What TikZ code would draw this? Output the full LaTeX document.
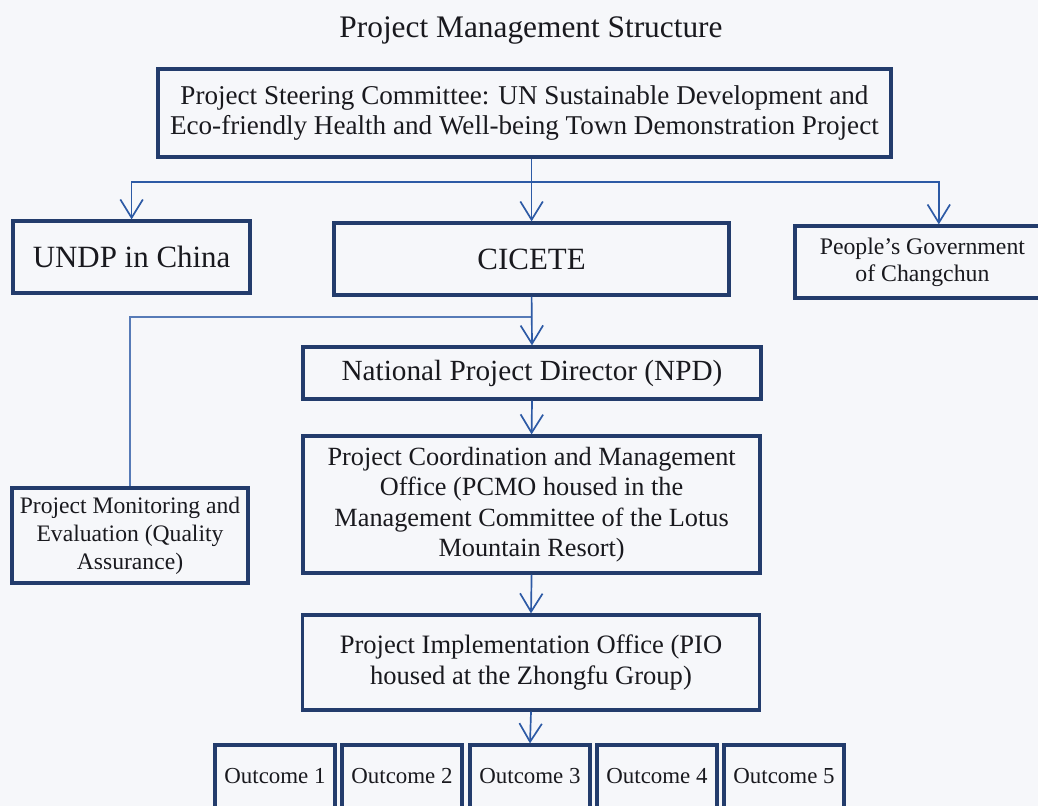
\documentclass[tikz,border=0pt]{standalone}
\usepackage{fontspec}
\setmainfont{Liberation Serif}
\usetikzlibrary{arrows.meta}

\definecolor{boxblue}{RGB}{35,60,108}
\definecolor{lineblue}{RGB}{45,90,165}
\definecolor{paper}{RGB}{246,247,250}
\definecolor{ink}{RGB}{25,25,30}

\tikzset{
	orgbox/.style={draw=boxblue, line width=2.3pt, align=center, inner sep=0pt, text=ink},
	arr/.style={draw=lineblue, line width=1.2pt, -{Straight Barb[length=13pt,width=16pt,line width=1.2pt]}},
	thinlink/.style={draw=lineblue!80, line width=0.8pt}
}

\begin{document}
\begin{tikzpicture}
	
	\fill[paper] (0,0) rectangle (25.95,20.15);
	\useasboundingbox (0,0) rectangle (25.95,20.15);
	\clip (0,0) rectangle (25.95,20.15);
	
	\node[text=ink, anchor=base, font=\fontsize{22.3}{26}\selectfont] (title) at (13.275, 19.2) {Project Management Structure};
	
	\node[orgbox, minimum width=18.325cm, minimum height=2.2cm, font=\fontsize{19.3}{21.3}\selectfont] (psc) at (13.11, 17.325) {Project Steering Committee: UN Sustainable Development and\\Eco-friendly Health and Well-being Town Demonstration Project};
	
	\node[orgbox, minimum width=5.925cm, minimum height=1.8cm, font=\fontsize{22}{26}\selectfont] (undp)    at (3.29, 13.725)  {UNDP in China};
	\node[orgbox, minimum width=9.875cm, minimum height=1.8cm, font=\fontsize{22}{26}\selectfont] (cicete)  at (13.29, 13.675) {CICETE};
	\node[orgbox, minimum width=6.375cm, minimum height=1.8cm, font=\fontsize{16.9}{19.2}\selectfont] (people) at (23.06, 13.6)   {People's Government\\of Changchun};
	
	\node[orgbox, minimum width=11.45cm, minimum height=1.3cm, font=\fontsize{20.8}{24}\selectfont] (npd)   at (13.3, 10.825)  {National Project Director (NPD)};
	\node[orgbox, minimum width=11.425cm, minimum height=3.425cm, font=\fontsize{18.7}{21.7}\selectfont] (pcmo) at (13.29, 7.5375) {Project Coordination and Management\\Office (PCMO housed in the\\Management Committee of the Lotus\\Mountain Resort)};
	\node[orgbox, minimum width=5.9cm, minimum height=2.375cm, font=\fontsize{16.8}{19.9}\selectfont] (monitor) at (3.25, 6.7625) {Project Monitoring and\\Evaluation (Quality\\Assurance)};
	\node[orgbox, minimum width=11.425cm, minimum height=2.375cm, font=\fontsize{18.9}{22.5}\selectfont] (pio) at (13.275, 3.5875) {Project Implementation Office (PIO\\housed at the Zhongfu Group)};
	
	\node[orgbox, minimum width=3cm, minimum height=1.575cm, font=\fontsize{16.3}{19}\selectfont] (out1) at (6.875, 0.7375) {Outcome 1};
	\node[orgbox, minimum width=3cm, minimum height=1.575cm, font=\fontsize{16.3}{19}\selectfont] (out2) at (10.05, 0.7375) {Outcome 2};
	\node[orgbox, minimum width=3cm, minimum height=1.575cm, font=\fontsize{16.3}{19}\selectfont] (out3) at (13.25, 0.7375) {Outcome 3};
	\node[orgbox, minimum width=3cm, minimum height=1.575cm, font=\fontsize{16.3}{19}\selectfont] (out4) at (16.425, 0.7375) {Outcome 4};
	\node[orgbox, minimum width=3cm, minimum height=1.575cm, font=\fontsize{16.3}{19}\selectfont] (out5) at (19.6, 0.7375) {Outcome 5};
	
	\coordinate (bus) at (13.29, 15.6);
	\coordinate (branch) at (13.29, 12.225);
	\coordinate (peoplein) at ([xshift=0.41cm]people.north);
	
	\draw[thinlink] (branch) -| (monitor.north);
	\draw[arr] (psc.south -| bus) -- (cicete.north);
	\draw[arr] (bus) -| (undp.north);
	\draw[arr] (bus) -| (peoplein);
	\draw[arr] (cicete.south) -- (npd.north);
	\draw[arr] (npd.south) -- (pcmo.north);
	\draw[arr] (pcmo.south) -- (pio.north);
	\draw[arr] (pio.south) -- (out3.north);
	
\end{tikzpicture}
\end{document}
